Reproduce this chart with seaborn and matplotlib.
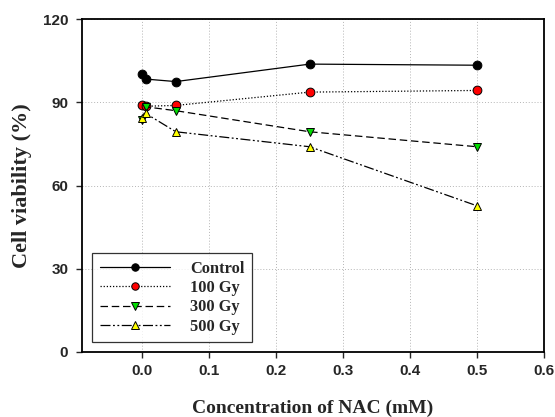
import matplotlib
matplotlib.use("Agg")
import matplotlib.pyplot as plt
import seaborn as sns
import pandas as pd

# NAC concentration (mM)
nac = [0.0, 0.005, 0.05, 0.25, 0.5]

control = [100.2, 98.4, 97.5, 103.8, 103.4]
gy100 = [88.9, 88.6, 88.9, 93.7, 94.3]
gy300 = [83.6, 88.4, 87.0, 79.4, 74.0]
gy500 = [84.2, 86.0, 79.4, 74.0, 52.7]

labels = ["Control", "100 Gy", "300 Gy", "500 Gy"]
x_ticks = [0.0, 0.1, 0.2, 0.3, 0.4, 0.5, 0.6]
y_ticks = [0, 30, 60, 90, 120]

sns.set_style("ticks")

styles = [
    dict(ls="-", marker="o", mfc="black"),
    dict(ls=(0, (1, 1.5)), marker="o", mfc="red"),
    dict(ls=(0, (6, 3)), marker="v", mfc="#00dd00"),
    dict(ls=(0, (8, 2, 1.5, 2, 1.5, 2)), marker="^", mfc="yellow"),
]

fig = plt.figure(figsize=(5.55, 4.17), dpi=100)
ax = fig.add_axes([0.148, 0.156, 0.832, 0.798])

for vals, lab, st in zip([control, gy100, gy300, gy500], labels, styles):
    df = pd.DataFrame({"x": nac, "y": vals})
    sns.lineplot(data=df, x="x", y="y", ax=ax, label=lab, color="black",
                 linestyle=st["ls"], linewidth=0.9, marker=st["marker"],
                 markerfacecolor=st["mfc"], markeredgecolor="black",
                 markeredgewidth=0.7, markersize=6.3)

ax.set_xlim(-0.09, 0.6)
ax.set_ylim(0, 120)
ax.set_xticks(x_ticks)
ax.set_yticks(y_ticks)
tick_font = dict(fontfamily="Liberation Sans", fontweight="bold", fontsize=11)
ax.set_xticklabels([f"{t:.1f}" for t in x_ticks], **tick_font)
ax.set_yticklabels([str(t) for t in y_ticks], **tick_font)
ax.tick_params(direction="out", length=4, width=1)
ax.tick_params(axis="x", pad=5)
ax.tick_params(axis="y", pad=6)

ax.grid(True, color="#b5b5b5", linestyle=(0, (1, 2)), linewidth=0.7)
for s in ax.spines.values():
    s.set_linewidth(1.3)
    s.set_color("black")

ax.set_xlabel("Concentration of NAC (mM)", fontfamily="Liberation Serif",
              fontweight="bold", fontsize=14, labelpad=15)
ax.set_ylabel("Cell viability (%)", fontfamily="Liberation Serif",
              fontweight="bold", fontsize=16, labelpad=8)

leg = ax.legend(loc="lower left", bbox_to_anchor=(0.022, 0.03), borderaxespad=0,
                frameon=True, fancybox=False, edgecolor="black", handlelength=4.3,
                borderpad=0.45, labelspacing=0.2, handletextpad=1.2,
                markerscale=0.85,
                prop={"family": "Liberation Serif", "weight": "bold", "size": 11.8})
leg.get_frame().set_linewidth(0.9)

fig.savefig("out.png", dpi=100)
